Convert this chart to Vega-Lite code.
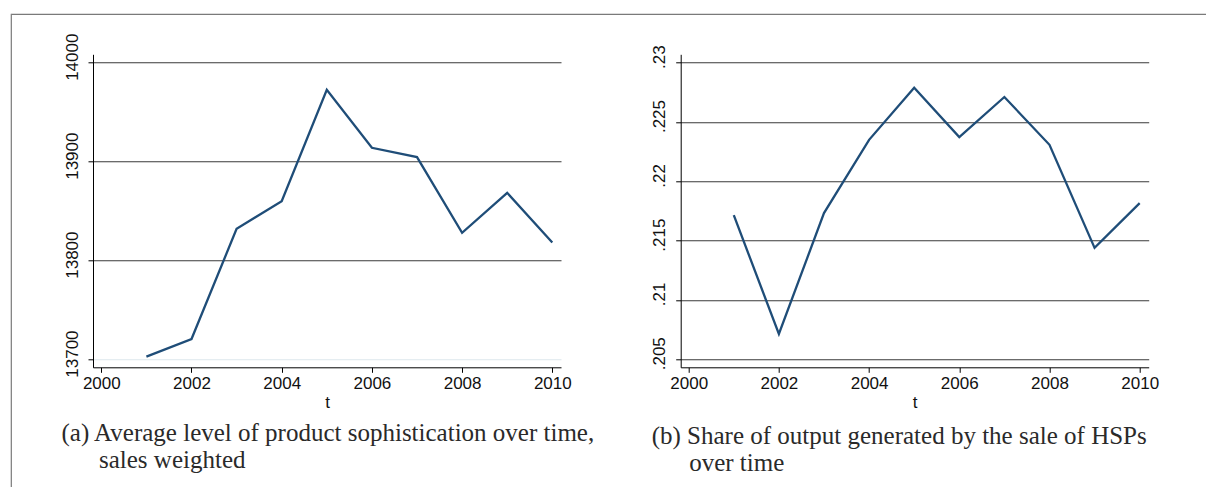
{
  "$schema": "https://vega.github.io/schema/vega-lite/v6.json",
  "background": "white",
  "padding": {"left": 10, "top": 13, "right": 0, "bottom": 0},
  "datasets": {
    "d": [
      {"t": 2001, "soph": 13703.0, "share": 0.21715},
      {"t": 2002, "soph": 13720.8, "share": 0.20713},
      {"t": 2003, "soph": 13832.1, "share": 0.21732},
      {"t": 2004, "soph": 13860.1, "share": 0.2235},
      {"t": 2005, "soph": 13972.7, "share": 0.22789},
      {"t": 2006, "soph": 13914.0, "share": 0.22373},
      {"t": 2007, "soph": 13904.6, "share": 0.22711},
      {"t": 2008, "soph": 13828.1, "share": 0.22308},
      {"t": 2009, "soph": 13868.5, "share": 0.21439},
      {"t": 2010, "soph": 13818.3, "share": 0.21816}
    ],
    "empty": []
  },
  "config": {
    "view": {"stroke": null},
    "axis": {
      "labelFont": "Liberation Sans",
      "labelFontSize": 17,
      "labelColor": "#111",
      "titleFont": "Liberation Sans",
      "titleFontSize": 17,
      "titleFontWeight": "normal",
      "titleColor": "#111",
      "domainColor": "#000",
      "domainWidth": 1,
      "tickColor": "#000",
      "tickSize": 5,
      "gridColor": "#3a3a3a",
      "gridOpacity": 1,
      "gridWidth": 1.1,
      "labelOverlap": false,
      "labelFlush": false
    },
    "title": {
      "font": "Liberation Serif",
      "fontSize": 25,
      "fontWeight": "normal",
      "color": "#2a2a2a",
      "orient": "bottom",
      "anchor": "start",
      "frame": "group",
      "lineHeight": 27
    }
  },
  "bounds": "flush",
  "spacing": 0,
  "hconcat": [
    {
      "width": 0.01,
      "height": 473,
      "view": {"stroke": "#7a7a7a", "strokeWidth": 1.2},
      "data": {"name": "empty"},
      "mark": "point",
      "encoding": {}
    },
    {
      "bounds": "flush",
      "spacing": 39.3,
      "vconcat": [
        {
          "width": 1195,
          "height": 0.01,
          "view": {"stroke": "#7a7a7a", "strokeWidth": 1.2},
          "data": {"name": "empty"},
          "mark": "point",
          "encoding": {}
        },
        {
          "bounds": "flush",
          "spacing": 80,
          "hconcat": [
            {
              "width": 0.01,
              "height": 0.01,
              "data": {"name": "empty"},
              "mark": "point",
              "encoding": {}
            },
            {
              "bounds": "flush",
              "spacing": 119.7,
              "data": {"name": "d"},
              "hconcat": [
                {
                  "width": 468,
                  "height": 313,
                  "title": {
                    "text": ["(a) Average level of product sophistication over time,", "\u200b\u00a0\u00a0\u00a0\u00a0\u00a0\u00a0sales weighted"],
                    "dx": -31.5,
                    "offset": 11
                  },
                  "mark": {"type": "line", "color": "#1f4d78", "strokeWidth": 2.3},
                  "encoding": {
                    "x": {
                      "field": "t",
                      "type": "quantitative",
                      "scale": {"domain": [1999.816, 2010.193], "nice": false, "zero": false},
                      "axis": {"values": [2000, 2002, 2004, 2006, 2008, 2010], "format": "d", "grid": false, "title": "t", "labelPadding": 3, "titlePadding": 3}
                    },
                    "y": {
                      "field": "soph",
                      "type": "quantitative",
                      "scale": {"domain": [13692.2, 14008.5], "nice": false, "zero": false},
                      "axis": {
                        "values": [13700, 13800, 13900, 14000],
                        "format": "d",
                        "title": null,
                        "labelAngle": -90,
                        "labelAlign": "center",
                        "labelBaseline": "bottom",
                        "labelPadding": 7,
                        "labelOffset": -6,
                        "grid": true,
                        "gridColor": {"condition": {"test": "datum.value == 13700", "value": "#dde7ec"}, "value": "#3a3a3a"}
                      }
                    }
                  }
                },
                {
                  "width": 468,
                  "height": 313,
                  "title": {
                    "text": ["(b) Share of output generated by the sale of HSPs", "\u200b\u00a0\u00a0\u00a0\u00a0\u00a0\u00a0over time"],
                    "dx": -29,
                    "offset": 14
                  },
                  "mark": {"type": "line", "color": "#1f4d78", "strokeWidth": 2.3},
                  "encoding": {
                    "x": {
                      "field": "t",
                      "type": "quantitative",
                      "scale": {"domain": [1999.823, 2010.2], "nice": false, "zero": false},
                      "axis": {"values": [2000, 2002, 2004, 2006, 2008, 2010], "format": "d", "grid": false, "title": "t", "labelPadding": 3, "titlePadding": 3}
                    },
                    "y": {
                      "field": "share",
                      "type": "quantitative",
                      "scale": {"domain": [0.20432, 0.23071], "nice": false, "zero": false},
                      "axis": {
                        "values": [0.205, 0.21, 0.215, 0.22, 0.225, 0.23],
                        "labelExpr": "substring(format(datum.value, '.3~f'), 1)",
                        "title": null,
                        "labelAngle": -90,
                        "labelAlign": "center",
                        "labelBaseline": "bottom",
                        "labelPadding": 7,
                        "labelOffset": -6,
                        "grid": true
                      }
                    }
                  }
                }
              ]
            }
          ]
        }
      ]
    }
  ]
}
